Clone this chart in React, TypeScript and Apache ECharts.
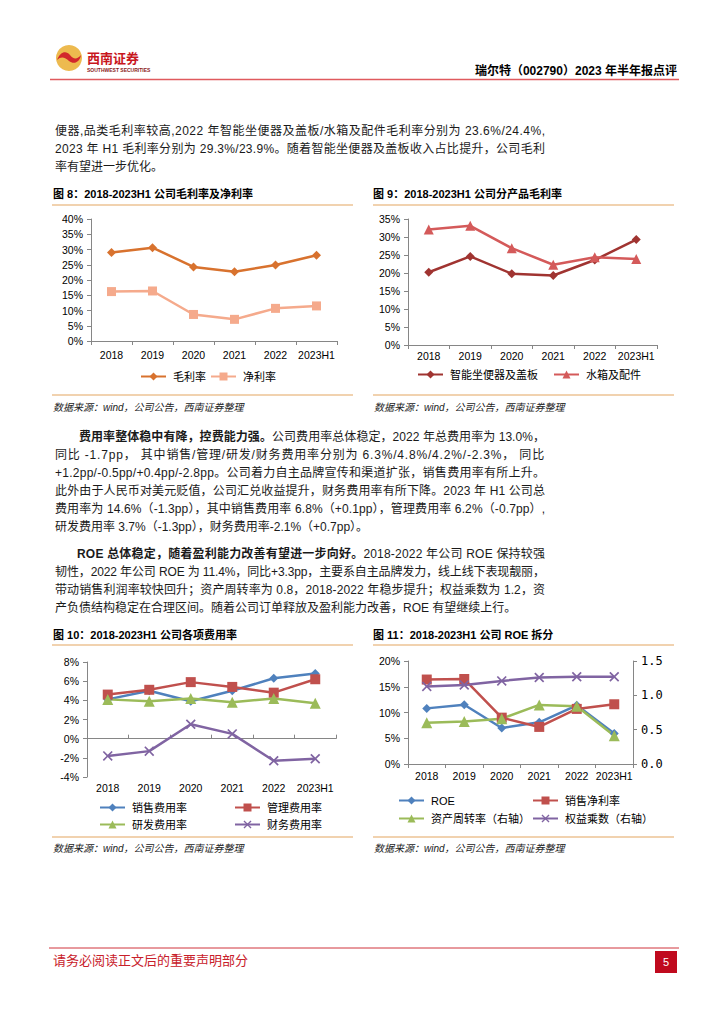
import React, { useEffect, useLayoutEffect, useRef } from "react";
import * as echarts from "echarts";

const cats = ["2018", "2019", "2020", "2021", "2022", "2023H1"];
// Fig 8
const grossMargin = [29.0, 30.6, 24.3, 22.7, 24.9, 28.1];
const netMargin = [16.2, 16.4, 8.7, 7.1, 10.7, 11.5];
// Fig 9
const toiletMargin = [20.2, 24.6, 19.8, 19.3, 23.6, 29.3];
const tankMargin = [32.1, 33.1, 26.9, 22.3, 24.4, 23.9];
// Fig 10
const sellRate = [4.1, 5.0, 3.9, 5.0, 6.3, 6.8];
const adminRate = [4.6, 5.1, 5.9, 5.4, 4.8, 6.2];
const rdRate = [4.1, 3.9, 4.2, 3.8, 4.2, 3.7];
const finRate = [-1.8, -1.3, 1.5, 0.5, -2.3, -2.1];
// Fig 11
const roe = [10.8, 11.5, 7.0, 8.1, 11.4, 5.9];
const netMargin2 = [16.4, 16.5, 9.0, 7.2, 10.7, 11.6];
const assetTurnover = [0.6, 0.62, 0.66, 0.86, 0.84, 0.41];
const equityMultiplier = [1.13, 1.15, 1.21, 1.26, 1.27, 1.27];

const LAT = "'Liberation Sans', Arial, 'Noto Sans CJK SC', sans-serif";
const CJK = "'Liberation Sans', 'Noto Sans CJK SC', sans-serif";

type Seg = { t: string; b?: boolean };
type Line = { y: number; x: number; segs: Seg[]; justify: boolean };

const para1: Line[] = [
  { y: 131, x: 55, justify: true, segs: [{ t: "便器,品类毛利率较高,2022 年智能坐便器及盖板/水箱及配件毛利率分别为 23.6%/24.4%," }] },
  { y: 149, x: 55, justify: true, segs: [{ t: "2023 年 H1 毛利率分别为 29.3%/23.9%。随着智能坐便器及盖板收入占比提升，公司毛利" }] },
  { y: 167, x: 55, justify: false, segs: [{ t: "率有望进一步优化。" }] },
];
const para2: Line[] = [
  { y: 437, x: 79, justify: true, segs: [{ t: "费用率整体稳中有降，控费能力强。", b: true }, { t: "公司费用率总体稳定，2022 年总费用率为 13.0%，" }] },
  { y: 455, x: 55, justify: true, segs: [{ t: "同比 -1.7pp， 其中销售/管理/研发/财务费用率分别为  6.3%/4.8%/4.2%/-2.3%， 同比" }] },
  { y: 473, x: 55, justify: true, segs: [{ t: "+1.2pp/-0.5pp/+0.4pp/-2.8pp。公司着力自主品牌宣传和渠道扩张，销售费用率有所上升。" }] },
  { y: 491, x: 55, justify: true, segs: [{ t: "此外由于人民币对美元贬值，公司汇兑收益提升，财务费用率有所下降。2023 年 H1 公司总" }] },
  { y: 509, x: 55, justify: true, segs: [{ t: "费用率为 14.6%（-1.3pp），其中销售费用率 6.8%（+0.1pp），管理费用率 6.2%（-0.7pp）," }] },
  { y: 527, x: 55, justify: false, segs: [{ t: "研发费用率 3.7%（-1.3pp），财务费用率-2.1%（+0.7pp）。" }] },
];
const para3: Line[] = [
  { y: 554, x: 77, justify: true, segs: [{ t: "ROE 总体稳定，随着盈利能力改善有望进一步向好。", b: true }, { t: "2018-2022 年公司 ROE 保持较强" }] },
  { y: 572, x: 55, justify: true, segs: [{ t: "韧性，2022 年公司 ROE 为 11.4%，同比+3.3pp，主要系自主品牌发力，线上线下表现靓丽，" }] },
  { y: 590, x: 55, justify: true, segs: [{ t: "带动销售利润率较快回升；资产周转率为 0.8，2018-2022 年稳步提升；权益乘数为 1.2，资" }] },
  { y: 608, x: 55, justify: false, segs: [{ t: "产负债结构稳定在合理区间。随着公司订单释放及盈利能力改善，ROE 有望继续上行。" }] },
];
const RIGHT_EDGE = 545;

const AXIS_GRAY = "#868686";
const AX_FS = 10.5;
const xLabel = (margin: number) => ({ color: "#000", fontSize: AX_FS, margin, interval: 0, fontFamily: LAT });
const catAxis = (gi: number, extra: any = {}) => ({
  type: "category",
  gridIndex: gi,
  data: cats,
  boundaryGap: true,
  axisLine: { show: true, lineStyle: { color: AXIS_GRAY, width: 1 } },
  axisTick: { show: true, length: 4, interval: 0, lineStyle: { color: AXIS_GRAY } },
  axisLabel: xLabel(8),
  splitLine: { show: false },
  ...extra,
});
const valAxis = (gi: number, min: number, max: number, interval: number, extra: any = {}) => ({
  type: "value",
  gridIndex: gi,
  min,
  max,
  interval,
  axisLine: { show: true, lineStyle: { color: AXIS_GRAY, width: 1 } },
  axisTick: { show: true, length: 4, lineStyle: { color: AXIS_GRAY } },
  axisLabel: { color: "#000", fontSize: AX_FS, margin: 8, fontFamily: LAT, formatter: "{value}%" },
  splitLine: { show: false },
  ...extra,
});

const XSYM = "path://M0,1.2 L1.2,0 L5,3.8 L8.8,0 L10,1.2 L6.2,5 L10,8.8 L8.8,10 L5,6.2 L1.2,10 L0,8.8 L3.8,5 Z";

const line = (name: string, xi: number, yi: number, data: number[], color: string, symbol: string, symbolSize: number) => ({
  type: "line",
  name,
  xAxisIndex: xi,
  yAxisIndex: yi,
  data,
  symbol,
  symbolSize,
  showAllSymbol: true,
  lineStyle: { width: 2.5, color },
  itemStyle: { color },
  emphasis: { disabled: true },
});

const legendItem = (name: string, left: number, cy: number) => ({
  data: [name],
  left,
  top: cy - 7,
  padding: 0,
  itemGap: 0,
  itemWidth: 25,
  itemHeight: 10,
  selectedMode: false,
  textStyle: { fontSize: 11, color: "#000", fontFamily: CJK, padding: [0, 0, 0, 2] },
});

const TAN = "#EDC394";
const hline = (x1: number, x2: number, y: number, color: string, w: number) => ({
  type: "line",
  shape: { x1, y1: y, x2, y2: y },
  style: { stroke: color, lineWidth: w },
  silent: true,
});
const txt = (x: number, y: number, text: string, style: any) => ({
  type: "text",
  x,
  y,
  style: { text, fontFamily: CJK, fill: "#000", textVerticalAlign: "middle", verticalAlign: "middle", ...style },
  silent: true,
});

echarts.graphic.registerShape(
  "logoSwoosh",
  echarts.graphic.extendPath("M1,15 C4,7 10,5 14,10 C17,14 21,15 25,10 C24,17 18,20 13,16 C9,12 5,11 1,15 Z", {})
);

export default function App() {
  const ref = useRef<HTMLDivElement>(null);
  const lineRefs = useRef<(HTMLDivElement | null)[]>([]);

  useLayoutEffect(() => {
    lineRefs.current.forEach((el) => {
      if (!el) return;
      const target = Number(el.dataset.target || 0);
      if (!target) return;
      el.style.letterSpacing = "0px";
      const w = el.getBoundingClientRect().width;
      const n = (el.textContent || "").length;
      if (n > 1) {
        const ls = (target - w) / (n - 1);
        el.style.letterSpacing = ls.toFixed(3) + "px";
      }
    });
  }, []);

  useEffect(() => {
    if (!ref.current) return;
    const chart = echarts.init(ref.current, undefined, { renderer: "svg" });
    const option: any = {
      animation: false,
      textStyle: { fontFamily: CJK },
      grid: [
        { left: 91, top: 219, width: 246, height: 122 },
        { left: 408, top: 219, width: 249, height: 126 },
        { left: 87, top: 662, width: 249, height: 115 },
        { left: 408, top: 661, width: 225, height: 103 },
      ],
      xAxis: [
        catAxis(0, { axisLabel: xLabel(9) }),
        catAxis(1, { axisLabel: xLabel(6) }),
        catAxis(2, {
          axisLine: { show: false, onZero: false },
          axisTick: { show: false },
          axisLabel: xLabel(6),
        }),
        catAxis(2, {
          axisLine: { show: true, onZero: true, lineStyle: { color: AXIS_GRAY, width: 1 } },
          axisLabel: { show: false },
        }),
        catAxis(3, { axisLabel: xLabel(7) }),
      ],
      yAxis: [
        valAxis(0, 0, 40, 5),
        valAxis(1, 0, 35, 5),
        valAxis(2, -4, 8, 2),
        valAxis(3, 0, 20, 5),
        valAxis(3, 0, 1.5, 0.5, {
          position: "right",
          axisLabel: {
            color: "#000",
            fontSize: 12,
            margin: 8,
            fontFamily: "'DejaVu Sans Mono', monospace",
            formatter: (v: number) => v.toFixed(1),
          },
        }),
      ],
      legend: [
        legendItem("毛利率", 140, 378),
        legendItem("净利率", 210, 378),
        legendItem("智能坐便器及盖板", 417, 376),
        legendItem("水箱及配件", 553, 376),
        legendItem("销售费用率", 99, 809),
        legendItem("管理费用率", 234, 809),
        legendItem("研发费用率", 99, 826),
        legendItem("财务费用率", 234, 826),
        legendItem("ROE", 398, 802),
        legendItem("销售净利率", 532, 802),
        legendItem("资产周转率（右轴）", 398, 820),
        legendItem("权益乘数（右轴）", 532, 820),
      ],
      series: [
        line("毛利率", 0, 0, grossMargin, "#D8722E", "diamond", 9),
        line("净利率", 0, 0, netMargin, "#F5AA8C", "rect", 9),
        line("智能坐便器及盖板", 1, 1, toiletMargin, "#A03431", "diamond", 9),
        line("水箱及配件", 1, 1, tankMargin, "#D45A5A", "triangle", 10),
        line("销售费用率", 2, 2, sellRate, "#4F81BD", "diamond", 9),
        line("管理费用率", 2, 2, adminRate, "#C0504D", "rect", 10),
        line("研发费用率", 2, 2, rdRate, "#9BBB59", "triangle", 11),
        line("财务费用率", 2, 2, finRate, "#8064A2", XSYM, 10),
        line("ROE", 4, 3, roe, "#4F81BD", "diamond", 9),
        line("销售净利率", 4, 3, netMargin2, "#C0504D", "rect", 10),
        line("资产周转率（右轴）", 4, 4, assetTurnover, "#9BBB59", "triangle", 11),
        line("权益乘数（右轴）", 4, 4, equityMultiplier, "#8064A2", XSYM, 10),
      ],
      graphic: {
        elements: [
          // logo
          { type: "circle", shape: { cx: 69, cy: 58, r: 13 }, style: { fill: "#EDBA4F" }, silent: true },
          { type: "logoSwoosh", x: 56, y: 45, scaleX: 1, scaleY: 1, style: { fill: "#D2262C" }, silent: true },
          txt(87, 57, "西南证券", { fontSize: 13, fontWeight: "bold", fill: "#C8161D", fontFamily: "'Noto Sans CJK SC', serif" }),
          txt(87, 70, "SOUTHWEST SECURITIES", { fontSize: 5, fontWeight: "bold", fill: "#8B1A1A", fontFamily: LAT }),
          txt(677, 71, "瑞尔特（002790）2023 年半年报点评", { fontSize: 12, fontWeight: "bold", textAlign: "right", align: "right" }),
          hline(50, 679, 79.5, "#E05A5E", 1.5),
          // figure titles
          txt(53, 194, "图 8：2018-2023H1 公司毛利率及净利率", { fontSize: 11, fontWeight: "bold" }),
          txt(373, 194, "图 9：2018-2023H1 公司分产品毛利率", { fontSize: 11, fontWeight: "bold" }),
          txt(53, 635, "图 10：2018-2023H1 公司各项费用率", { fontSize: 11, fontWeight: "bold" }),
          txt(373, 635, "图 11：2018-2023H1 公司 ROE 拆分", { fontSize: 11, fontWeight: "bold" }),
          // tan frame lines
          hline(52, 353, 205, TAN, 1.5),
          hline(52, 353, 395, TAN, 1.5),
          hline(373, 674, 205, TAN, 1.5),
          hline(373, 674, 395, TAN, 1.5),
          hline(52, 353, 645, TAN, 1.5),
          hline(52, 353, 837, TAN, 1.5),
          hline(373, 674, 645, TAN, 1.5),
          hline(373, 674, 837, TAN, 1.5),
          // sources
          txt(53, 407, "数据来源：wind，公司公告，西南证券整理", { fontSize: 10, fontStyle: "italic", fill: "#222" }),
          txt(374, 407, "数据来源：wind，公司公告，西南证券整理", { fontSize: 10, fontStyle: "italic", fill: "#222" }),
          txt(53, 848, "数据来源：wind，公司公告，西南证券整理", { fontSize: 10, fontStyle: "italic", fill: "#222" }),
          txt(374, 848, "数据来源：wind，公司公告，西南证券整理", { fontSize: 10, fontStyle: "italic", fill: "#222" }),
          // footer
          hline(49, 679, 948, "#D0343C", 1),
          txt(53, 960, "请务必阅读正文后的重要声明部分", { fontSize: 13, fill: "#C8202A" }),
          { type: "rect", shape: { x: 655, y: 951, width: 22, height: 22 }, style: { fill: "#C00A1E" }, silent: true },
          txt(666, 962, "5", { fontSize: 11, fill: "#fff", textAlign: "center", align: "center", fontFamily: LAT }),
        ],
      },
    };
    chart.setOption(option);
    return () => chart.dispose();
  }, []);

  const allLines = [...para1, ...para2, ...para3];

  return (
    <div style={{ position: "absolute", left: 0, top: 0, width: 724, height: 1024, background: "#fff" }}>
      <div ref={ref} style={{ position: "absolute", left: 0, top: 0, width: 724, height: 1024 }} />
      {allLines.map((l, i) => (
        <div
          key={i}
          ref={(el) => {
            lineRefs.current[i] = el;
          }}
          data-target={l.justify ? RIGHT_EDGE - l.x : 0}
          style={{
            position: "absolute",
            left: l.x,
            top: l.y - 9,
            display: "inline-block",
            height: 18,
            lineHeight: "18px",
            fontSize: 12,
            fontFamily: CJK,
            color: "#1a1a1a",
            whiteSpace: "nowrap",
          }}
        >
          {l.segs.map((s, j) => (
            <span key={j} style={{ fontWeight: s.b ? "bold" : "normal" }}>
              {s.t}
            </span>
          ))}
        </div>
      ))}
    </div>
  );
}
